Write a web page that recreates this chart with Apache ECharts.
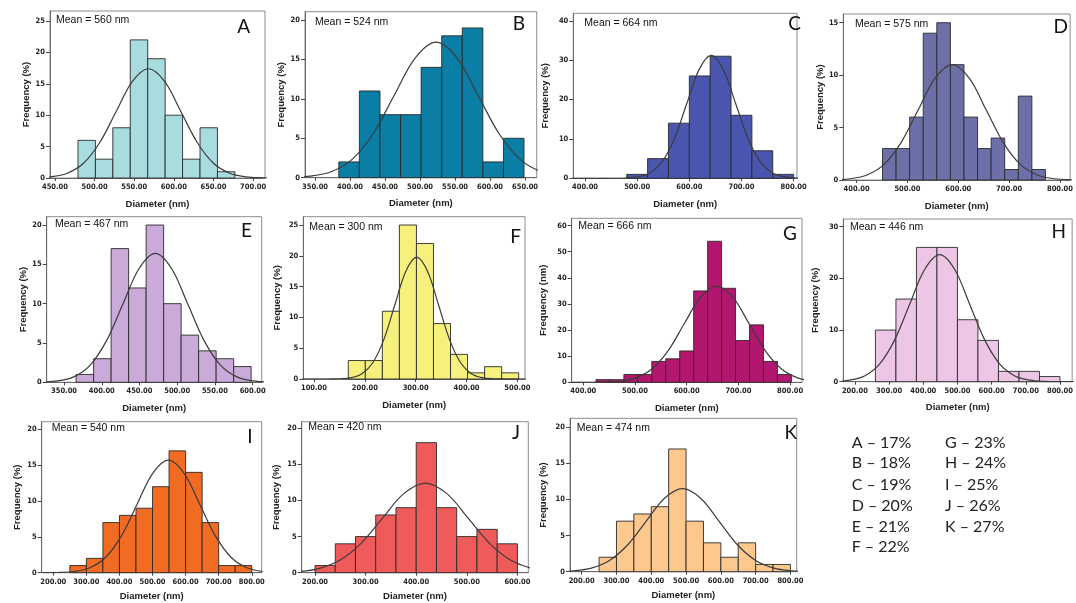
<!DOCTYPE html>
<html><head><meta charset="utf-8">
<script src="https://cdn.jsdelivr.net/npm/echarts@6/dist/echarts.min.js"></script>
<style>html,body{margin:0;padding:0;background:#fff}#c{width:1076px;height:603px}</style>
</head><body><div id="c"></div>
<script>
// ---------- DATA ----------
const letters = ['A','B','C','D','E','F','G','H','I','J','K'];
const meanTexts = ['Mean = 560 nm','Mean = 524 nm','Mean = 664 nm','Mean = 575 nm','Mean = 467 nm','Mean = 300 nm','Mean = 666 nm','Mean = 446 nm','Mean = 540 nm','Mean = 420 nm','Mean = 474 nm'];
const yNames = ['Frequency (%)','Frequency (%)','Frequency (%)','Frequency (%)','Frequency (%)','Frequency (%)','Frequency (nm)','Frequency (%)','Frequency (%)','Frequency (%)','Frequency (%)'];
const xName = 'Diameter (nm)';

// histogram bins: first bin edge, bin width, frequencies
const binStart = [479, 384, 480, 451, 366, 167.5, 424.5, 260, 250, 200, 250];
const binWidth = [22, 29.4, 40, 26.7, 23.2, 33.5, 27, 60, 50, 40, 50];
const freqA = [6, 3, 8, 22, 19, 10, 3, 8, 1];
const freqB = [2, 11, 8, 8, 14, 18, 19, 2, 5];
const freqC = [1, 5, 14, 26, 31, 16, 7, 1];
const freqD = [3, 3, 6, 14, 15, 11, 6, 3, 4, 1, 8, 1];
const freqE = [1, 3, 17, 12, 20, 10, 6, 4, 3, 2];
const freqF = [3, 3, 11, 25, 22, 9, 4, 1, 2, 1];
const freqG = [1, 1, 3, 3, 8, 9, 12, 35, 54, 36, 16, 22, 8, 3];
const freqH = [10, 16, 26, 26, 12, 8, 2, 2, 1];
const freqI = [1, 2, 7, 8, 9, 12, 17, 14, 7, 1, 1];
const freqJ = [1, 4, 5, 8, 9, 18, 9, 5, 6, 4];
const freqK = [2, 7, 8, 9, 17, 7, 4, 2, 4, 1, 1];

// normal-fit curves, points [diameter, frequency]
const curveA = [[430,0.08],[445,0.19],[465.5,0.76],[486,2.35],[506.5,5.65],[527,10.55],[547.5,15.36],[568,17.4],[588.5,15.36],[609,10.55],[629.5,5.65],[650,2.35],[670.5,0.76],[691,0.19],[711.5,0.04],[730,0.01]];
const curveB = [[313,0.04],[343,0.19],[373,0.76],[403,2.33],[433,5.58],[463,10.43],[493,15.18],[523,17.2],[553,15.18],[583,10.43],[613,5.58],[643,2.33],[673,0.76],[703,0.19]];
const curveC = [[360,0],[430,0],[454,0.01],[477.5,0.07],[501,0.35],[524.5,1.37],[548,4.22],[571.5,10.13],[595,18.92],[618.5,27.53],[642,31.2],[665.5,27.53],[689,18.92],[712.5,10.13],[736,4.22],[759.5,1.37],[783,0.35],[806.5,0.07],[830,0.01]];
const curveD = [[353.5,0.02],[387,0.12],[420.5,0.48],[454,1.49],[487.5,3.57],[521,6.67],[554.5,9.71],[588,11],[621.5,9.71],[655,6.67],[688.5,3.57],[722,1.49],[755.5,0.48],[789,0.12],[822.5,0.02],[850,0]];
const curveE = [[320.5,0.04],[342,0.18],[363.5,0.72],[385,2.22],[406.5,5.33],[428,9.95],[449.5,14.47],[471,16.4],[492.5,14.47],[514,9.95],[535.5,5.33],[557,2.22],[578.5,0.72],[600,0.18],[621.5,0.04]];
const curveF = [[70,0],[108.5,0],[130,0.01],[151.5,0.04],[173,0.22],[194.5,0.87],[216,2.68],[237.5,6.43],[259,12.01],[280.5,17.47],[302,19.8],[323.5,17.47],[345,12.01],[366.5,6.43],[388,2.68],[409.5,0.87],[431,0.22],[452.5,0.04],[474,0.01],[520,0]];
const curveG = [[370,0],[406,0.01],[437.5,0.08],[469,0.41],[500.5,1.62],[532,4.98],[563.5,11.95],[595,22.32],[626.5,32.48],[658,36.8],[689.5,32.48],[721,22.32],[752.5,11.95],[784,4.98],[815.5,1.62],[847,0.41]];
const curveH = [[140,0.06],[184,0.3],[228,1.12],[272,3.4],[316,8.05],[360,14.95],[404,21.72],[448,24.6],[492,21.72],[536,14.95],[580,8.05],[624,3.4],[668,1.12],[712,0.3],[756,0.06],[800,0.01],[840,0]];
const curveI = [[168,0.01],[215.5,0.03],[263,0.17],[310.5,0.69],[358,2.12],[405.5,5.1],[453,9.52],[500.5,13.86],[548,15.7],[595.5,13.86],[643,9.52],[690.5,5.1],[738,2.12],[785.5,0.69],[833,0.17]];
const curveJ = [[120.5,0.03],[163,0.14],[205.5,0.54],[248,1.68],[290.5,4.03],[333,7.52],[375.5,10.94],[418,12.4],[460.5,10.94],[503,7.52],[545.5,4.03],[588,1.68],[630.5,0.54]];
const curveK = [[122.5,0.03],[175,0.13],[227.5,0.5],[280,1.56],[332.5,3.73],[385,6.97],[437.5,10.15],[490,11.5],[542.5,10.15],[595,6.97],[647.5,3.73],[700,1.56],[752.5,0.5],[805,0.13],[857.5,0.03]];

// tick labels
const xTicksA = [450, 500, 550, 600, 650, 700];
const xTicksB = [350, 400, 450, 500, 550, 600, 650];
const xTicksC = [400, 500, 600, 700, 800];
const xTicksD = [400, 500, 600, 700, 800];
const xTicksE = [350, 400, 450, 500, 550, 600];
const xTicksF = [100, 200, 300, 400, 500];
const xTicksG = [400, 500, 600, 700, 800];
const xTicksH = [200, 300, 400, 500, 600, 700, 800];
const xTicksI = [200, 300, 400, 500, 600, 700, 800];
const xTicksJ = [200, 300, 400, 500, 600];
const xTicksK = [200, 300, 400, 500, 600, 700, 800];
const yTicksA = [0, 5, 10, 15, 20, 25];
const yTicksB = [0, 5, 10, 15, 20];
const yTicksC = [0, 10, 20, 30, 40];
const yTicksD = [0, 5, 10, 15];
const yTicksE = [0, 5, 10, 15, 20];
const yTicksF = [0, 5, 10, 15, 20, 25];
const yTicksG = [0, 10, 20, 30, 40, 50, 60];
const yTicksH = [0, 10, 20, 30];
const yTicksI = [0, 5, 10, 15, 20];
const yTicksJ = [0, 5, 10, 15, 20];
const yTicksK = [0, 5, 10, 15, 20];

// legend of percentages
const legendCol1 = ['A – 17%', 'B – 18%', 'C – 19%', 'D – 20%', 'E – 21%', 'F – 22%'];
const legendCol2 = ['G – 23%', 'H – 24%', 'I – 25%', 'J – 26%', 'K – 27%'];

// ---------- LAYOUT / STYLE ----------
const freqs = [freqA, freqB, freqC, freqD, freqE, freqF, freqG, freqH, freqI, freqJ, freqK];
const curves = [curveA, curveB, curveC, curveD, curveE, curveF, curveG, curveH, curveI, curveJ, curveK];
const xTicks = [xTicksA, xTicksB, xTicksC, xTicksD, xTicksE, xTicksF, xTicksG, xTicksH, xTicksI, xTicksJ, xTicksK];
const yTicks = [yTicksA, yTicksB, yTicksC, yTicksD, yTicksE, yTicksF, yTicksG, yTicksH, yTicksI, yTicksJ, yTicksK];
const colors = ['#a9dcdf', '#0a7ea4', '#4a55b0', '#6d70a8', '#c9aad8', '#f6f07c', '#b2166e', '#ecc6e4', '#f26b22', '#ef5a5a', '#fdc88e'];

const layout = [
  {l:50,   t:11,    w:215,   h:167,   xMin:443.7, xMax:715,   yMax:26.6,  yGap:16, xGap:21, mx:56,    my:21.7,  lx:250,   ly:26.7},
  {l:305,  t:11.7,  w:231.7, h:166,   xMin:335.7, xMax:666.7, yMax:21.06, yGap:17, xGap:21, mx:315,   my:23.3,  lx:525,   ly:24},
  {l:573.3,t:13.3,  w:223.7, h:165,   xMin:377.5, xMax:806.5, yMax:41.9,  yGap:23, xGap:21, mx:584.3, my:25,    lx:801,   ly:24},
  {l:843.3,t:14,    w:228.7, h:166,   xMin:373.9, xMax:820,   yMax:15.83, yGap:15, xGap:21, mx:855,   my:26,    lx:1068,  ly:26.7},
  {l:46.7, t:216.7, w:215,   h:165.6, xMin:327,   xMax:612,   yMax:21.06, yGap:18.5, xGap:21, mx:55,  my:225.7, lx:252,   ly:231},
  {l:303.3,t:216.7, w:221.7, h:162.3, xMin:79,    xMax:515,   yMax:26.35, yGap:21, xGap:21, mx:309.3, my:228.3, lx:521,   ly:236.7},
  {l:571.7,t:218.3, w:230.3, h:164,   xMin:377.6, xMax:823,   yMax:62.8,  yGap:23, xGap:21, mx:578.3, my:227.7, lx:797,   ly:234.3},
  {l:843.3,t:219,   w:229.7, h:162.7, xMin:166,   xMax:835.6, yMax:31.5,  yGap:23, xGap:21, mx:850,   my:229,   lx:1066,  ly:231.7},
  {l:41.7, t:421.7, w:220,   h:151,   xMin:165,   xMax:830,   yMax:21.07, yGap:19.5, xGap:19, mx:51.7, my:430,  lx:252.5, ly:436.7},
  {l:301.7,t:421.7, w:226.6, h:151,   xMin:173.7, xMax:621.5, yMax:20.9,  yGap:20, xGap:19, mx:308.3, my:428.3, lx:520,   ly:433.3},
  {l:570,  t:418.3, w:226.7, h:153.4, xMin:166.4, xMax:818,   yMax:21.25, yGap:22, xGap:19, mx:576.7, my:429.3, lx:797,   ly:433.3}
];

const tickFont = "'Liberation Sans Narrow', 'DejaVu Sans Condensed', 'Liberation Sans', sans-serif";
const nameFont = "'Liberation Sans', Arial, sans-serif";

const grid = [], xAxis = [], yAxis = [], series = [], graphic = [];
layout.forEach((L, i) => {
  grid.push({left: L.l, top: L.t, width: L.w, height: L.h, show: true, backgroundColor: '#fff', borderColor: '#8d8d8d', borderWidth: 1});
  xAxis.push({
    gridIndex: i, type: 'value', min: L.xMin, max: L.xMax,
    axisLine: {show: true, onZero: false, lineStyle: {color: '#6a6a6a', width: 1}},
    axisTick: {show: true, length: 3, customValues: xTicks[i], lineStyle: {color: '#444'}},
    axisLabel: {customValues: xTicks[i], formatter: v => v.toFixed(2), fontSize: 7.5, color: '#222', margin: 5, fontFamily: tickFont, fontWeight: 'bold'},
    splitLine: {show: false},
    name: xName, nameLocation: 'middle', nameGap: L.xGap,
    nameTextStyle: {fontSize: 9.5, fontWeight: 'bold', color: '#222', fontFamily: nameFont}
  });
  yAxis.push({
    gridIndex: i, type: 'value', min: 0, max: L.yMax,
    axisLine: {show: true, onZero: false, lineStyle: {color: '#6a6a6a', width: 1}},
    axisTick: {show: true, length: 4, customValues: yTicks[i], lineStyle: {color: '#444'}},
    axisLabel: {customValues: yTicks[i], fontSize: 7.5, color: '#222', margin: 5, fontFamily: tickFont, fontWeight: 'bold'},
    splitLine: {show: false},
    name: yNames[i], nameLocation: 'middle', nameGap: L.yGap,
    nameTextStyle: {fontSize: 9.5, fontWeight: 'bold', color: '#222', fontFamily: nameFont}
  });
  const bins = freqs[i].map((f, k) => [binStart[i] + k * binWidth[i], binStart[i] + (k + 1) * binWidth[i], f]);
  const col = colors[i];
  series.push({
    type: 'custom', xAxisIndex: i, yAxisIndex: i, data: bins,
    encode: {x: [0, 1], y: 2},
    renderItem: (params, api) => {
      const p0 = api.coord([api.value(0), api.value(2)]);
      const p1 = api.coord([api.value(1), 0]);
      return {type: 'rect', shape: {x: p0[0], y: p0[1], width: p1[0] - p0[0], height: p1[1] - p0[1]},
              style: {fill: col, stroke: '#2a2a2a', lineWidth: 0.9}};
    },
    z: 2
  });
  series.push({
    type: 'line', xAxisIndex: i, yAxisIndex: i, data: curves[i], smooth: 0.35,
    showSymbol: false, clip: true, lineStyle: {color: '#3c3c3c', width: 1.2}, z: 3
  });
  graphic.push({type: 'text', left: L.mx, top: L.my - 7, z: 10,
    style: {text: meanTexts[i], fontSize: 10.5, fill: '#111', fontFamily: nameFont}});
  graphic.push({type: 'text', x: L.lx, y: L.ly, z: 10,
    style: {text: letters[i], fontSize: 19, fill: '#111', fontFamily: "Lato, 'Open Sans', sans-serif", align: 'right', verticalAlign: 'middle'}});
});

const rowY = [442.7, 463.3, 485, 505.7, 526.7, 547.3];
legendCol1.forEach((t, k) => graphic.push({type: 'text', x: 851.7, y: rowY[k], style: {text: t, fontSize: 16, fill: '#222', fontFamily: "Lato, 'Open Sans', sans-serif", verticalAlign: 'middle'}}));
legendCol2.forEach((t, k) => graphic.push({type: 'text', x: 945, y: rowY[k], style: {text: t, fontSize: 16, fill: '#222', fontFamily: "Lato, 'Open Sans', sans-serif", verticalAlign: 'middle'}}));

const chart = echarts.init(document.getElementById('c'), null, {renderer: 'canvas'});
chart.setOption({animation: false, backgroundColor: '#fff', grid, xAxis, yAxis, series, graphic});
</script>
</body></html>
